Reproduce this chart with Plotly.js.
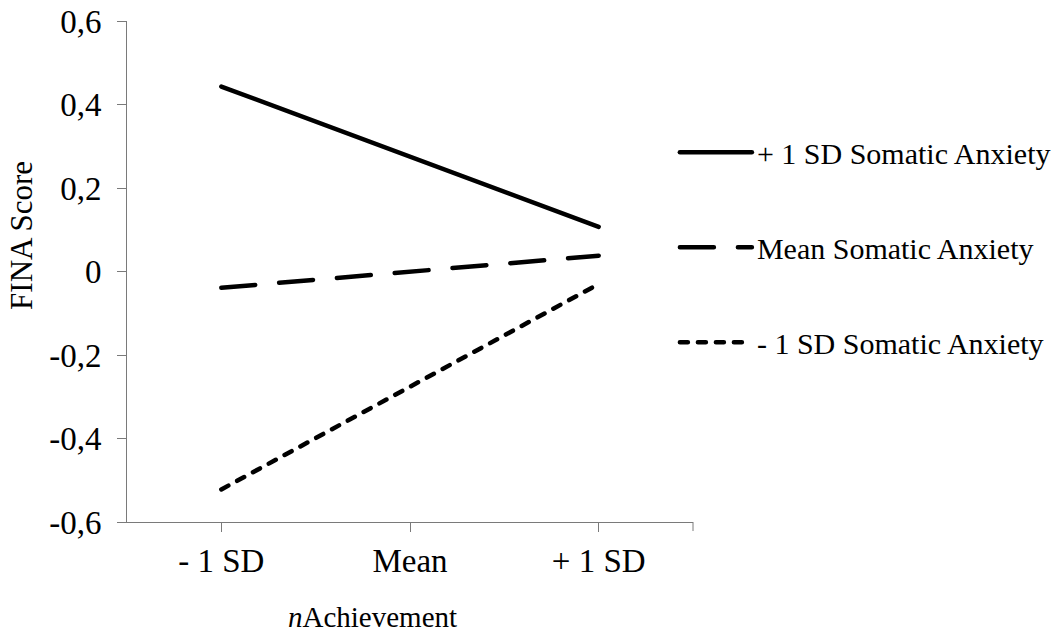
<!DOCTYPE html>
<html>
<head>
<meta charset="utf-8">
<script src="https://cdn.plot.ly/plotly-3.0.1.min.js"></script>
<style>
html, body { margin: 0; padding: 0; background: #fff; }
#chart { width: 1054px; height: 634px; }
.scatterlayer .js-line, .legend .js-line { stroke-linecap: round; }
</style>
</head>
<body>
<div id="chart"></div>
<script>
const categories = ["- 1 SD", "Mean", "+ 1 SD"];
const seriesNames = ["+ 1 SD Somatic Anxiety", "Mean Somatic Anxiety", "- 1 SD Somatic Anxiety"];
const highAnxiety = [0.443, 0.275, 0.107];
const meanAnxiety = [-0.039, 0.0, 0.038];
const lowAnxiety = [-0.522, -0.276, -0.030];
const yTickVals = [-0.6, -0.4, -0.2, 0, 0.2, 0.4, 0.6];
const yTickText = ["-0,6", "-0,4", "-0,2", "0", "0,2", "0,4", "0,6"];

const FONT = '"Liberation Serif", "Times New Roman", serif';
const axisColor = '#7a7a7a';

const traces = [
  { x: categories, y: highAnxiety, name: seriesNames[0], legendgroup: 'a',
    mode: 'lines', line: { color: '#000', width: 4.5, dash: 'solid' } },
  { x: categories, y: meanAnxiety, name: seriesNames[1], legendgroup: 'b',
    mode: 'lines', line: { color: '#000', width: 4.5, dash: '34px,24px' } },
  { x: categories, y: lowAnxiety, name: seriesNames[2], legendgroup: 'c',
    mode: 'lines', line: { color: '#000', width: 4.5, dash: '8px,10px' } }
];

const layout = {
  width: 1054, height: 634,
  margin: { l: 127, r: 361, t: 21, b: 112, autoexpand: false },
  paper_bgcolor: '#fff', plot_bgcolor: '#fff',
  font: { family: FONT, color: '#000', size: 30 },
  showlegend: true,
  legend: {
    x: 0.968, xanchor: 'left', y: 0.79, yanchor: 'top',
    traceorder: 'grouped', tracegroupgap: 53, itemwidth: 72,
    font: { family: FONT, size: 30, color: '#000' },
    bgcolor: 'rgba(0,0,0,0)'
  },
  xaxis: {
    type: 'category', range: [-0.5, 2.5],
    showline: true, linecolor: axisColor, linewidth: 1,
    ticks: 'outside', ticklen: 9, tickcolor: axisColor, tickwidth: 1,
    showgrid: false, zeroline: false,
    tickfont: { family: FONT, size: 33, color: '#000' },
    fixedrange: true
  },
  yaxis: {
    range: [-0.6, 0.6], tickvals: yTickVals, ticktext: yTickText,
    showline: true, linecolor: axisColor, linewidth: 1,
    ticks: 'outside', ticklen: 9, tickcolor: axisColor, tickwidth: 1,
    showgrid: false, zeroline: false,
    tickfont: { family: FONT, size: 33, color: '#000' },
    ticklabelstandoff: 9,
    fixedrange: true
  },
  shapes: [
    { type: 'line', xref: 'paper', yref: 'paper', x0: 1, x1: 1, y0: 0, y1: -0.018,
      line: { color: axisColor, width: 1 } }
  ],
  annotations: [
    { text: 'FINA Score', xref: 'paper', yref: 'paper', x: -0.1855, y: 0.571,
      xanchor: 'center', yanchor: 'middle', textangle: -90, showarrow: false,
      font: { family: FONT, size: 31, color: '#000' } },
    { text: '<i>n</i>Achievement', xref: 'paper', yref: 'paper', x: 0.433, y: -0.19,
      xanchor: 'center', yanchor: 'middle', showarrow: false,
      font: { family: FONT, size: 29, color: '#000' } }
  ]
};

Plotly.newPlot('chart', traces, layout, { displayModeBar: false, staticPlot: true });
</script>
</body>
</html>
